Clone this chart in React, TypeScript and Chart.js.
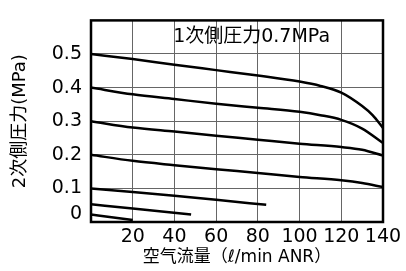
import React, { useEffect, useRef } from "react";
import { Chart, registerables } from "chart.js";

Chart.register(...registerables);

const xTicks = [0, 20, 40, 60, 80, 100, 120, 140];
const yTicks = [0, 0.1, 0.2, 0.3, 0.4, 0.5, 0.6];

const flow05 = [0, 20, 40, 60, 80, 100, 110, 120, 130, 135, 140];
const press05 = [0.5, 0.485, 0.468, 0.452, 0.436, 0.418, 0.405, 0.385, 0.345, 0.318, 0.28];

const flow04 = [0, 20, 40, 60, 80, 100, 110, 120, 130, 140];
const press04 = [0.4, 0.38, 0.366, 0.352, 0.34, 0.328, 0.318, 0.304, 0.278, 0.235];

const flow03 = [0, 20, 40, 60, 80, 100, 120, 130, 140];
const press03 = [0.3, 0.281, 0.269, 0.257, 0.245, 0.233, 0.223, 0.215, 0.198];

const flow02 = [0, 20, 40, 60, 80, 100, 120, 130, 140];
const press02 = [0.2, 0.182, 0.169, 0.157, 0.146, 0.134, 0.124, 0.116, 0.104];

const flow01 = [0, 20, 40, 60, 84];
const press01 = [0.1, 0.089, 0.078, 0.066, 0.051];

const flow005 = [0, 20, 48];
const press005 = [0.053, 0.04, 0.022];

const flow002 = [0, 20];
const press002 = [0.022, 0.006];

const annotation = "1次側圧力0.7MPa";
const yTitle = "2次側圧力(MPa)";
const xTitle = "空气流量（ℓ/min ANR）";

const FONT = "'DejaVu Sans', 'Noto Sans CJK JP', sans-serif";

const series = [
  [flow05, press05],
  [flow04, press04],
  [flow03, press03],
  [flow02, press02],
  [flow01, press01],
  [flow005, press005],
  [flow002, press002],
];

export default function App() {
  const ref = useRef<HTMLCanvasElement | null>(null);
  useEffect(() => {
    if (!ref.current) return;
    const framePlugin = {
      id: "frame",
      afterDraw(chart: any) {
        const { ctx, chartArea } = chart;
        const xs = chart.scales.x;
        const ys = chart.scales.y;
        ctx.save();
        ctx.strokeStyle = "#000";
        ctx.lineWidth = 2.5;
        ctx.strokeRect(chartArea.left, chartArea.top, chartArea.right - chartArea.left, chartArea.bottom - chartArea.top);
        ctx.fillStyle = "#000";
        ctx.font = "19px " + FONT;
        ctx.textAlign = "center";
        ctx.textBaseline = "middle";
        ctx.fillText(annotation, xs.getPixelForValue(77), ys.getPixelForValue(0.55));
        ctx.font = "19px " + FONT;
        ctx.textAlign = "right";
        ctx.fillText(String(yTicks[0]), chartArea.left - 9, ys.getPixelForValue(0) - 8);
        ctx.restore();
      },
    };
    const chart = new Chart(ref.current, {
      type: "line",
      data: {
        datasets: series.map(([xs, ys]) => ({
          data: xs.map((x, i) => ({ x, y: ys[i] })),
          borderColor: "#000",
          borderWidth: 2.5,
          pointRadius: 0,
          fill: false,
          cubicInterpolationMode: "monotone" as const,
        })),
      },
      options: {
        animation: false,
        responsive: false,
        maintainAspectRatio: false,
        layout: { padding: { top: 11, right: 23, left: 0, bottom: 0 } },
        plugins: { legend: { display: false }, tooltip: { enabled: false } },
        font: { family: FONT },
        scales: {
          x: {
            type: "linear",
            min: 0,
            max: 140,
            afterFit: (s: any) => {
              s.height = 49;
            },
            afterBuildTicks: (s: any) => {
              s.ticks = xTicks.map((v) => ({ value: v }));
            },
            ticks: {
              color: "#000",
              font: { size: 19, family: FONT },
              padding: 4,
              maxRotation: 0,
              autoSkip: false,
              callback: (v: any) => (v === 0 ? "" : String(v)),
            },
            grid: { color: "#666", lineWidth: 1, drawTicks: false },
            border: { display: false },
            title: {
              display: true,
              text: xTitle,
              color: "#000",
              font: { size: 17, family: FONT },
              padding: { top: 0, bottom: 3 },
            },
          },
          y: {
            type: "linear",
            min: 0,
            max: 0.6,
            afterFit: (s: any) => {
              s.width = 91;
            },
            afterBuildTicks: (s: any) => {
              s.ticks = yTicks.map((v) => ({ value: v }));
            },
            ticks: {
              color: "#000",
              font: { size: 19, family: FONT },
              padding: 9,
              autoSkip: false,
              callback: (v: any) => (v === 0 || v >= 0.59 ? "" : Number(v).toFixed(1)),
            },
            grid: { color: "#666", lineWidth: 1, drawTicks: false },
            border: { display: false },
            title: {
              display: true,
              text: yTitle,
              color: "#000",
              font: { size: 18, family: FONT },
              padding: { top: 10, bottom: 0 },
            },
          },
        },
      },
      plugins: [framePlugin],
    });
    return () => chart.destroy();
  }, []);
  return (
    <div style={{ position: "fixed", left: 0, top: 0, width: 406, height: 271, background: "#fff" }}>
      <canvas ref={ref} width={406} height={271} style={{ width: 406, height: 271 }} />
    </div>
  );
}
